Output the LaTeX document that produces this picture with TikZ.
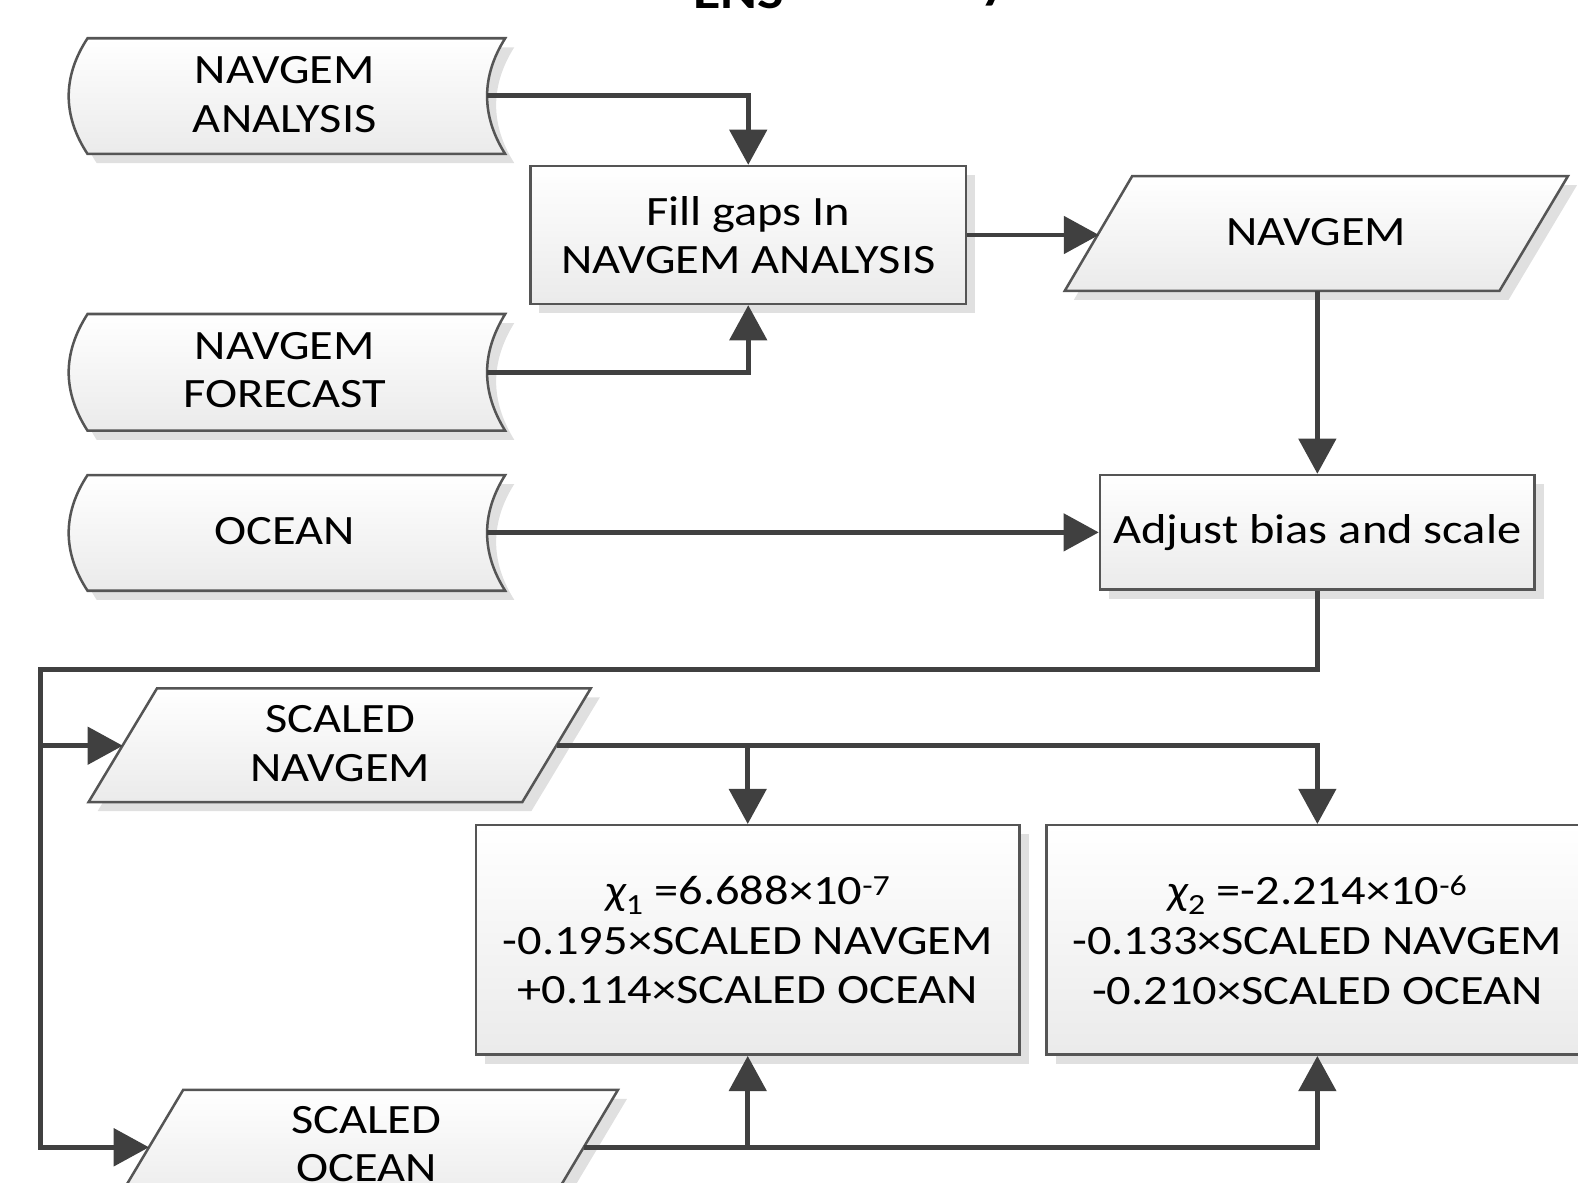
\documentclass[tikz,border=0pt]{standalone}
\usepackage{fontspec}
\setmainfont{Carlito}[FakeStretch=1.16]
\usetikzlibrary{arrows.meta,shadows}
\definecolor{linec}{HTML}{404040}
\definecolor{edgec}{HTML}{555555}
\newcommand\mainsz{\fontsize{41.5}{48}\selectfont}
\newcommand\chisz{\fontsize{41.5}{49.5}\selectfont}
\tikzset{
  shp/.style={draw=edgec, line width=2.5pt, top color=white, bottom color=black!8,
    drop shadow={shadow xshift=9pt, shadow yshift=-9pt, fill=black!12, opacity=1}},
  procbox/.style={shp, rectangle, inner sep=0pt, align=center, font=\mainsz},
  lbl/.style={align=center, font=\mainsz, inner sep=0pt},
  conn/.style={draw=linec, line width=4.5pt},
  arr/.style={conn, -{Triangle[length=35pt,width=37pt]}},
  ttl/.style={font=\fontsize{48}{55}\selectfont\bfseries, anchor=base west, inner sep=0pt}
}
\begin{document}
\begin{tikzpicture}[x=1pt,y=-1pt]
\useasboundingbox (0,0) rectangle (1568,1175);

% title fragments (clipped at the top edge)
\node[ttl] (title1) at (689,8) {ENS};
\node[ttl] (title2) at (974,-1) {y};

% stored data shapes
\path[shp] (87,38) -- (502,38) .. controls (478,76) and (478,115) .. (502,153)
  -- (87,153) .. controls (62,115) and (62,76) .. (87,38) -- cycle;
\path[shp] (87,312) -- (502,312) .. controls (478,351) and (478,389) .. (502,428)
  -- (87,428) .. controls (62,389) and (62,351) .. (87,312) -- cycle;
\path[shp] (87,472) -- (502,472) .. controls (478,510) and (478,549) .. (502,587)
  -- (87,587) .. controls (62,549) and (62,510) .. (87,472) -- cycle;
\node[lbl] (ana) at (283,94) {NAVGEM\\ANALYSIS};
\node[lbl] (fc) at (283,368) {NAVGEM\\FORECAST};
\node[lbl] (oc) at (283,528) {OCEAN};
\coordinate (anaE) at (484,95);
\coordinate (fcE) at (484,370);
\coordinate (ocE) at (484,529);

% process boxes
\node[procbox, minimum width=433pt, minimum height=137pt] (fill) at (743.5,233.5) {Fill gaps In\\NAVGEM ANALYSIS};
\node[procbox, minimum width=432pt, minimum height=114pt] (adj) at (1309,529) {Adjust bias and scale};
\node[procbox, font=\chisz, minimum width=540pt, minimum height=228pt] (c1) at (743,934)
  {{\itshape χ}\textsubscript{1} =6.688×10\textsuperscript{-7}\\-0.195×SCALED NAVGEM\\+0.114×SCALED OCEAN};
\node[procbox, font=\chisz, minimum width=538pt, minimum height=228pt] (c2) at (1309,934)
  {{\itshape χ}\textsubscript{2} =-2.214×10\textsuperscript{-6}\\-0.133×SCALED NAVGEM\\-0.210×SCALED OCEAN};

% parallelograms
\path[shp] (1125,175) -- (1558,175) -- (1490,289) -- (1058,289) -- cycle;
\node[lbl] (nav) at (1308,231) {NAVGEM};
\coordinate (navL) at (1092,233.5);
\coordinate (navB) at (1309,289);

\path[shp] (156,684) -- (587,684) -- (519,797) -- (88,797) -- cycle;
\node[lbl] (sn) at (338,739) {SCALED\\NAVGEM};
\coordinate (snL) at (122,741);
\coordinate (snR) at (553,741);

\path[shp] (182,1083) -- (614,1083) -- (546,1197) -- (114,1197) -- cycle;
\node[lbl] (so) at (364,1137) {SCALED\\OCEAN};
\coordinate (soL) at (148,1140);
\coordinate (soR) at (580,1140);

% bus corners
\coordinate (busT) at (40,665);
\coordinate (busB) at (40,1140);

% connectors
\draw[arr] (anaE) -| (fill.north);
\draw[arr] (fcE) -| (fill.south);
\draw[arr] (fill.east) -- (navL);
\draw[arr] (navB) -- (adj.north);
\draw[arr] (ocE) -- (adj.west);
\draw[arr] (adj.south) |- (busT) -- (busB) -- (soL);
\draw[arr] (busT |- snL) -- (snL);
\draw[arr] (snR) -| (c2.north);
\draw[arr] (c1.north |- snR) -- (c1.north);
\draw[arr] (soR) -| (c2.south);
\draw[arr] (c1.south |- soR) -- (c1.south);
\end{tikzpicture}
\end{document}
